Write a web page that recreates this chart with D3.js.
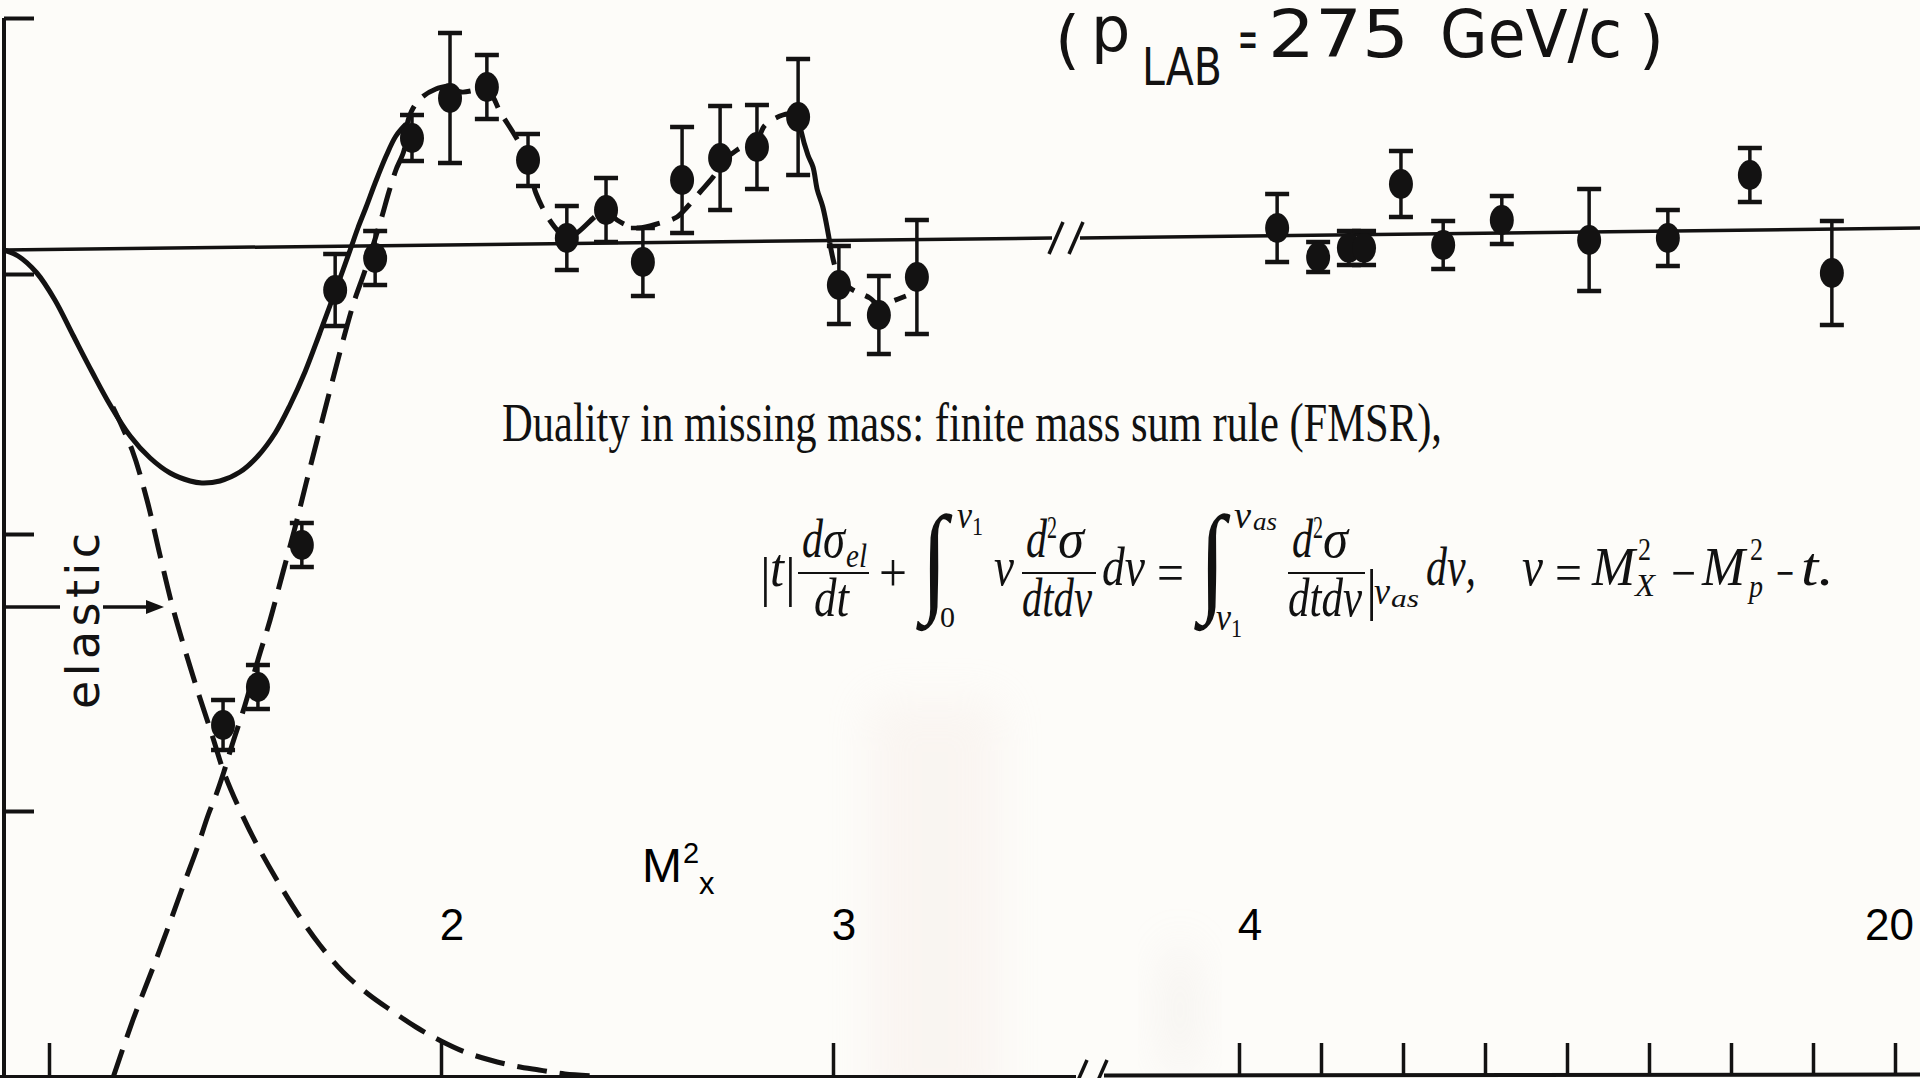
<!DOCTYPE html>
<html>
<head>
<meta charset="utf-8">
<script src="https://cdn.jsdelivr.net/npm/d3@7"></script>
<style>
  html, body { margin: 0; padding: 0; background: #fdfcf9; }
  svg { display: block; }
</style>
</head>
<body>
<svg id="chart" width="1920" height="1078"></svg>
<script>
// Missing-mass spectrum (arbitrary units) against M_X^2 at p_LAB = 275 GeV/c,
// with the elastic and resonance contributions and the averaged (FMSR) curve.

// ---- measured points, low-mass region (M_X^2 in GeV^2) ----
const massLow  = [1.444, 1.533, 1.645, 1.730, 1.832, 1.926, 2.023, 2.117, 2.222, 2.321,
                  2.421, 2.515, 2.615, 2.712, 2.806, 2.911, 3.015, 3.117, 3.214];
const valueLow = [-4.75, -4.37, -2.95, -0.40, -0.08, 1.12, 1.52, 1.63, 0.90, 0.12,
                  0.40, -0.12, 0.70, 0.92, 1.03, 1.33, -0.35, -0.65, -0.27];
const errorLow = [0.25, 0.22, 0.22, 0.36, 0.27, 0.23, 0.65, 0.32, 0.26, 0.32,
                  0.32, 0.34, 0.53, 0.52, 0.42, 0.58, 0.39, 0.39, 0.57];

// ---- measured points, high-mass region ----
const massHigh  = [4.93, 5.93, 6.68, 7.05, 7.95, 8.98, 10.41, 12.54, 14.46, 16.46, 18.46];
const valueHigh = [0.22, -0.07, 0.02, 0.02, 0.66, 0.05, 0.30, 0.10, 0.12, 0.75, -0.23];
const errorHigh = [0.34, 0.15, 0.17, 0.17, 0.33, 0.24, 0.24, 0.51, 0.28, 0.27, 0.52];

// ---- curves: [M_X^2, value] ----
const averagedCurve = [[0.885,0],[0.921,-0.06],[0.969,-0.23],[1.015,-0.50],[1.061,-0.85],[1.110,-1.22],
  [1.156,-1.55],[1.207,-1.86],[1.258,-2.08],[1.309,-2.23],[1.360,-2.31],[1.390,-2.33],[1.436,-2.31],
  [1.487,-2.22],[1.533,-2.06],[1.577,-1.83],[1.615,-1.55],[1.653,-1.22],[1.691,-0.83],[1.724,-0.48],
  [1.750,-0.20],[1.770,0.02],[1.788,0.22],[1.809,0.43],[1.832,0.67],[1.860,0.94],[1.885,1.14],[1.911,1.26]];

const elasticCurve = [[1.163,-1.57],[1.212,-2.00],[1.250,-2.50],[1.283,-3.05],[1.314,-3.55],[1.347,-4.00],
  [1.385,-4.48],[1.416,-4.85],[1.446,-5.22],[1.487,-5.60],[1.531,-5.95],[1.589,-6.35],[1.640,-6.67],
  [1.691,-6.95],[1.750,-7.22],[1.814,-7.44],[1.875,-7.61],[1.936,-7.77],[2.000,-7.91],[2.061,-8.02],
  [2.125,-8.10],[2.189,-8.16],[2.250,-8.20],[2.316,-8.24],[2.400,-8.26]];

const resonanceRise = [[1.163,-8.28],[1.214,-7.70],[1.265,-7.18],[1.309,-6.72],[1.344,-6.34],[1.378,-5.98],
  [1.406,-5.65],[1.426,-5.45],[1.446,-5.22],[1.467,-4.95],[1.500,-4.55],[1.533,-4.10],[1.564,-3.70],
  [1.597,-3.22],[1.628,-2.77],[1.656,-2.33],[1.686,-1.87],[1.717,-1.40],[1.747,-0.95],[1.778,-0.52],
  [1.804,-0.23],[1.827,0.05],[1.849,0.33],[1.867,0.58],[1.885,0.80],[1.906,1.00],[1.913,1.25],
  [1.929,1.42],[1.952,1.53],[1.987,1.61],[2.018,1.64]];

const resonanceFit = [[2.018,1.64],[2.051,1.58],[2.097,1.60],[2.125,1.57],[2.151,1.38],[2.191,1.13],
  [2.222,0.90],[2.242,0.57],[2.286,0.25],[2.321,0.12],[2.347,0.17],[2.398,0.35],[2.421,0.40],
  [2.449,0.30],[2.500,0.22],[2.559,0.27],[2.602,0.33],[2.628,0.43],[2.661,0.58],[2.694,0.73],
  [2.724,0.90],[2.755,1.00],[2.781,1.05],[2.806,1.10],[2.827,1.25],[2.872,1.35],[2.911,1.37]];

const resonanceDrop = [[2.911,1.37],[2.918,1.20],[2.936,0.95],[2.949,0.83],[2.960,0.60],[2.974,0.43],[2.992,0.07]];

const resonanceTail = [[2.992,0.07],[3.013,-0.25],[3.043,-0.38],[3.094,-0.48],[3.120,-0.56],[3.153,-0.51],[3.186,-0.46]];

// ---- axis ticks ----
const ticksLow   = [1, 2, 3];
const ticksHigh  = [4, 6, 8, 10, 12, 14, 16, 18, 20];
const tickLabels = [2, 3, 4, 20];
const yTicks     = [2.32, -0.24, -2.84, -5.61];
const elasticMark = -3.57;
const zeroLevel  = [0, 0.12, 0.12, 0.22];   // drawn reference line, slightly rising
const axisFloor  = -8.27;

// ---- scales ----
const W = 1920, H = 1078;
const xLow  = d3.scaleLinear().domain([1, 3]).range([49, 833]);
const xHigh = d3.scaleLinear().domain([4, 20]).range([1239, 1895]);
const y     = d3.scaleLinear().domain([0, 1]).range([250, 150]);
const lowEdge = [4, 1052], highEdge = [1080, W];

const svg = d3.select("#chart");
const ink = "#131212";

// faint paper stains
const defs = svg.append("defs");
defs.append("filter").attr("id", "soft")
  .attr("x", "-100%").attr("y", "-50%").attr("width", "300%").attr("height", "200%")
  .append("feGaussianBlur").attr("stdDeviation", 22);
svg.append("rect").attr("x", 870).attr("y", 700).attr("width", 130).attr("height", 420)
  .attr("fill", "#efddd6").attr("opacity", 0.22).attr("filter", "url(#soft)");
svg.append("ellipse").attr("cx", 1180).attr("cy", 1010).attr("rx", 14).attr("ry", 70)
  .attr("fill", "#d6ccc8").attr("opacity", 0.25).attr("filter", "url(#soft)");

const g = svg.append("g");

// ---- axes ----
g.append("line").attr("x1", lowEdge[0]).attr("x2", lowEdge[0])
  .attr("y1", y(yTicks[0])).attr("y2", H)
  .attr("stroke", ink).attr("stroke-width", 4);

const yAxis = g.append("g").attr("transform", `translate(${lowEdge[0]},0)`)
  .call(d3.axisRight(y).tickValues(yTicks).tickSize(30).tickFormat(""));
yAxis.select(".domain").remove();
yAxis.selectAll("line").attr("stroke", ink).attr("stroke-width", 4);

const floorY = y(axisFloor);
g.append("line").attr("x1", 0).attr("x2", 1076).attr("y1", floorY).attr("y2", floorY)
  .attr("stroke", ink).attr("stroke-width", 4);
g.append("line").attr("x1", 1104).attr("x2", W).attr("y1", floorY - 1.5).attr("y2", floorY - 2.5)
  .attr("stroke", ink).attr("stroke-width", 4);

const axLow = g.append("g").attr("transform", `translate(0,${floorY})`)
  .call(d3.axisBottom(xLow).tickValues(ticksLow).tickSize(-34).tickFormat(""));
const axHigh = g.append("g").attr("transform", `translate(0,${floorY - 2})`)
  .call(d3.axisBottom(xHigh).tickValues(ticksHigh).tickSize(-32).tickFormat(""));
[axLow, axHigh].forEach(a => {
  a.select(".domain").remove();
  a.selectAll("line").attr("stroke", ink).attr("stroke-width", 3.5);
});

// axis break marks
function breakMarks(cx, cy) {
  [-10, 10].forEach(dx => {
    g.append("line").attr("x1", cx + dx - 7).attr("y1", cy + 16)
      .attr("x2", cx + dx + 7).attr("y2", cy - 16)
      .attr("stroke", ink).attr("stroke-width", 3.5);
  });
}

// zero reference line (two pieces across the break)
g.append("line").attr("x1", lowEdge[0]).attr("y1", y(zeroLevel[0]))
  .attr("x2", lowEdge[1]).attr("y2", y(zeroLevel[1]))
  .attr("stroke", ink).attr("stroke-width", 3.5);
g.append("line").attr("x1", highEdge[0]).attr("y1", y(zeroLevel[2]))
  .attr("x2", highEdge[1]).attr("y2", y(zeroLevel[3]))
  .attr("stroke", ink).attr("stroke-width", 3.5);
breakMarks((lowEdge[1] + highEdge[0]) / 2, y(zeroLevel[1]));
breakMarks(1090, floorY - 1);

// ---- curves ----
const line = d3.line().x(d => xLow(d[0])).y(d => y(d[1])).curve(d3.curveCatmullRom.alpha(0.5));
function drawCurve(data, dash, w) {
  g.append("path").attr("d", line(data)).attr("fill", "none")
    .attr("stroke", ink).attr("stroke-width", w)
    .attr("stroke-dasharray", dash).attr("stroke-linecap", "butt");
}
drawCurve(averagedCurve, null, 5);
drawCurve(elasticCurve, "30,13", 5);
drawCurve(resonanceRise, "30,13", 5);
drawCurve(resonanceFit, "24,13", 5);
drawCurve(resonanceDrop, null, 5);
drawCurve(resonanceTail, "22,12", 5);

// ---- data points with error bars ----
function drawPoints(xs, vs, es, xScale) {
  const pts = xs.map((m, i) => ({ m, v: vs[i], e: es[i] }));
  const grp = g.append("g").selectAll("g").data(pts).join("g");
  grp.append("line")
    .attr("x1", d => xScale(d.m)).attr("x2", d => xScale(d.m))
    .attr("y1", d => y(d.v + d.e)).attr("y2", d => y(d.v - d.e))
    .attr("stroke", ink).attr("stroke-width", 3.5);
  [1, -1].forEach(s => {
    grp.append("line")
      .attr("x1", d => xScale(d.m) - 12).attr("x2", d => xScale(d.m) + 12)
      .attr("y1", d => y(d.v + s * d.e)).attr("y2", d => y(d.v + s * d.e))
      .attr("stroke", ink).attr("stroke-width", 4.5);
  });
  grp.append("ellipse")
    .attr("cx", d => xScale(d.m)).attr("cy", d => y(d.v))
    .attr("rx", 12).attr("ry", 15).attr("fill", ink);
}
drawPoints(massLow, valueLow, errorLow, xLow);
drawPoints(massHigh, valueHigh, errorHigh, xHigh);

// ---- "elastic" marker ----
const ey = y(elasticMark);
g.append("line").attr("x1", lowEdge[0]).attr("x2", 60).attr("y1", ey).attr("y2", ey)
  .attr("stroke", ink).attr("stroke-width", 3.5);
g.append("line").attr("x1", 103).attr("x2", 150).attr("y1", ey).attr("y2", ey)
  .attr("stroke", ink).attr("stroke-width", 3.5);
g.append("path").attr("d", `M146,${ey - 7} L164,${ey} L146,${ey + 7} Z`).attr("fill", ink);
g.append("text").attr("transform", `translate(99,621) rotate(-90)`)
  .attr("text-anchor", "middle")
  .attr("font-family", "'DejaVu Sans', sans-serif").attr("font-size", 46)
  .attr("textLength", 176).attr("lengthAdjust", "spacing")
  .attr("fill", ink).text("elastic");

// ---- x tick labels and axis name ----
const sans = "'Liberation Sans', Arial, sans-serif";
const lbl = g.append("g").attr("font-family", sans).attr("fill", "#000");
tickLabels.forEach(v => {
  const sx = v < 4 ? xLow(v) : xHigh(v);
  const t = lbl.append("text").attr("y", 940).attr("font-size", 44)
    .attr("text-anchor", "middle").text(v);
  const half = t.node().getComputedTextLength() / 2;
  t.attr("x", Math.min(sx + 11, W - 6 - half));
});
const axisName = lbl.append("text").attr("y", 882).attr("font-size", 48);
axisName.append("tspan").attr("x", 642).text("M");
axisName.append("tspan").attr("x", 683).attr("y", 863).attr("font-size", 29).text("2");
axisName.append("tspan").attr("x", 699).attr("y", 894).attr("font-size", 31).text("x");

// ---- title ----
const titleFont = "'DejaVu Sans', sans-serif";
const tg = g.append("g").attr("font-family", titleFont).attr("fill", ink);
function tpiece(t, x, yy, size, len) {
  const el = tg.append("text").attr("x", x).attr("y", yy).attr("font-size", size).text(t);
  if (len) el.attr("textLength", len).attr("lengthAdjust", "spacingAndGlyphs");
  return el;
}
tpiece("(", 1055, 62, 64);
tpiece("p", 1091, 51, 62);
tpiece("LAB", 1142, 85, 52, 80);
tpiece("=", 1238, 58, 56, 20);
tpiece("275", 1268, 57, 66, 141);
tpiece("GeV/c", 1440, 57, 66, 182);
tpiece(")", 1639, 62, 64);

// ---- sum-rule text and formula ----
const serif = "'Liberation Serif', 'Times New Roman', serif";
g.append("text").attr("x", 502).attr("y", 441)
  .attr("font-family", serif).attr("font-size", 54)
  .attr("textLength", 940).attr("lengthAdjust", "spacingAndGlyphs")
  .attr("fill", "#111").text("Duality in missing mass: finite mass sum rule (FMSR),");

const eq = g.append("g").attr("font-family", serif).attr("fill", "#111");
// [text, x, baseline, size, italic, width]
const formula = [
  ["|", 760, 595, 54, false, 0], ["t", 770, 586, 54, true, 14], ["|", 785, 595, 54, false, 0],
  ["d", 802, 557, 54, true, 21], ["\u03C3", 823, 557, 54, true, 22], ["el", 846, 567, 34, true, 21],
  ["dt", 814, 616, 54, true, 35],
  ["+", 879, 591, 54, false, 28],
  ["\u03BD", 957, 528, 38, true, 15], ["1", 972, 535, 26, false, 11], ["0", 940, 627, 30, false, 15],
  ["\u03BD", 994, 585, 54, true, 20],
  ["d", 1026, 557, 54, true, 21], ["2", 1047, 538, 32, false, 10], ["\u03C3", 1058, 557, 54, true, 26],
  ["dtd\u03BD", 1022, 616, 54, true, 70],
  ["d\u03BD", 1102, 585, 54, true, 43],
  ["=", 1157, 591, 54, false, 27],
  ["\u03BD", 1234, 528, 38, true, 17], ["as", 1253, 530, 26, true, 24],
  ["\u03BD", 1216, 630, 38, true, 15], ["1", 1231, 637, 26, false, 11],
  ["d", 1292, 557, 54, true, 21], ["2", 1313, 538, 32, false, 10], ["\u03C3", 1323, 557, 54, true, 25],
  ["dtd\u03BD", 1288, 616, 54, true, 74],
  ["|", 1366, 609, 56, false, 0], ["\u03BD", 1374, 604, 38, true, 16], ["as", 1391, 607, 26, true, 28],
  ["d\u03BD,", 1426, 585, 54, true, 50],
  ["\u03BD", 1522, 585, 54, true, 21], ["=", 1555, 591, 54, false, 27],
  ["M", 1592, 585, 54, true, 43], ["2", 1638, 560, 32, false, 13], ["X", 1635, 596, 32, true, 20],
  ["\u2212", 1671, 591, 54, false, 25],
  ["M", 1702, 585, 54, true, 43], ["2", 1750, 560, 32, false, 13], ["p", 1749, 597, 32, true, 14],
  ["\u2212", 1776, 591, 54, false, 18],
  ["t.", 1801, 585, 54, true, 33]
];
formula.forEach(([t, x, yy, size, italic, width]) => {
  const el = eq.append("text").attr("x", x).attr("y", yy).attr("font-size", size)
    .attr("font-style", italic ? "italic" : "normal").text(t);
  if (width) el.attr("textLength", width).attr("lengthAdjust", "spacingAndGlyphs");
});
// fraction bars
[[798, 869], [1022, 1096], [1288, 1365]].forEach(([x1, x2]) => {
  eq.append("line").attr("x1", x1).attr("x2", x2).attr("y1", 573).attr("y2", 573)
    .attr("stroke", "#111").attr("stroke-width", 2.2);
});
// integral signs
[921, 1199].forEach(x => {
  eq.append("text").attr("transform", `translate(${x},599) scale(0.8,1)`)
    .attr("font-family", serif).attr("font-style", "italic")
    .attr("font-size", 120).text("\u222B");
});
</script>
</body>
</html>
